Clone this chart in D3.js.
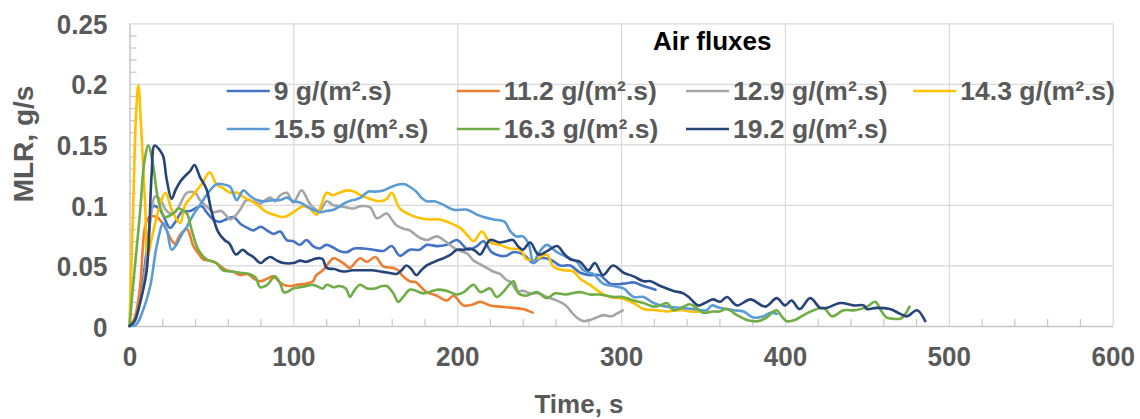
<!DOCTYPE html>
<html>
<head>
<meta charset="utf-8">
<script src="https://cdn.jsdelivr.net/npm/d3@7"></script>
<style>
  html, body { margin: 0; padding: 0; background: #fff; }
  svg { display: block; font-family: "Liberation Sans", Arial, sans-serif; }
</style>
</head>
<body>
<svg id="chart" width="1140" height="419"></svg>
<script>
// Mass loss rate (g/s) against time (s) for seven air fluxes

const xTicks = [0, 100, 200, 300, 400, 500, 600];
const yTicks = [0, 0.05, 0.1, 0.15, 0.2, 0.25];
const yTickLabels = ["0", "0.05", "0.1", "0.15", "0.2", "0.25"];

const seriesNames = ["9 g/(m².s)", "11.2 g/(m².s)", "12.9 g/(m².s)", "14.3 g/(m².s)",
                     "15.5 g/(m².s)", "16.3 g/(m².s)", "19.2 g/(m².s)"];
const seriesColors = ["#4472C4", "#ED7D31", "#A5A5A5", "#FFC000", "#5B9BD5", "#70AD47", "#264478"];

// [time s, MLR g/s]
const flux9 = [[0,0],[3,0.004],[7.4,0.030],[11.5,0.074],[14.5,0.099],[18,0.097],[21,0.090],[24.7,0.081],[28,0.086],[31.9,0.094],[37,0.095],[44,0.099],[47,0.094],[51,0.088],[55,0.086],[58.7,0.088],[63.4,0.090],[68,0.084],[72,0.081],[75.6,0.079],[80,0.082],[83.8,0.079],[88,0.076],[92,0.078],[96,0.071],[100,0.070],[104,0.067],[108,0.071],[112,0.066],[116,0.064],[120,0.067],[124,0.065],[128,0.062],[132.6,0.061],[137,0.064],[142.7,0.064],[148.8,0.063],[155,0.062],[160,0.066],[165,0.058],[171,0.063],[177,0.063],[181.4,0.067],[187.6,0.066],[193.6,0.067],[199.8,0.071],[206.8,0.063],[212,0.066],[216,0.070],[221,0.061],[226,0.058],[230,0.058],[234.3,0.061],[240.4,0.059],[246.5,0.052],[250.5,0.056],[256.7,0.055],[262.8,0.050],[269,0.050],[275,0.044],[281,0.042],[287,0.042],[293.3,0.035],[301.5,0.035],[307.6,0.036],[313.7,0.033],[321,0.030]];

const flux11_2 = [[0,0],[3,0.006],[6.4,0.032],[9.5,0.082],[12,0.090],[16.6,0.090],[19.5,0.086],[22.7,0.079],[25.5,0.071],[27.8,0.068],[30.8,0.075],[35,0.080],[39,0.066],[42,0.060],[45,0.055],[49,0.054],[53,0.052],[56,0.049],[59,0.046],[63,0.045],[67.5,0.042],[72,0.043],[76,0.039],[79.7,0.037],[84,0.039],[87.8,0.041],[91,0.037],[94,0.034],[98,0.033],[102,0.034],[108,0.035],[112,0.037],[114,0.042],[118,0.046],[121,0.051],[124.4,0.056],[128,0.054],[130.5,0.052],[134.6,0.048],[137.5,0.052],[140.7,0.056],[145,0.053],[150,0.057],[155,0.049],[161,0.048],[164,0.046],[167,0.041],[171,0.037],[175,0.036],[178,0.032],[181.4,0.028],[187.6,0.025],[193.6,0.021],[197.7,0.025],[203.8,0.017],[210,0.018],[214,0.020],[220,0.017],[226,0.016],[234,0.015],[240,0.014],[246,0.011]];

const flux12_9 = [[0,0],[3,0.003],[5.4,0.013],[8,0.030],[10.5,0.057],[13,0.090],[15.6,0.107],[19,0.104],[22,0.096],[24.7,0.093],[28,0.094],[31,0.101],[35,0.110],[40,0.110],[43,0.104],[47,0.099],[51,0.094],[56,0.095],[58.5,0.092],[61.4,0.088],[64,0.090],[67.5,0.096],[71.5,0.104],[75,0.103],[79.7,0.101],[83,0.104],[85.8,0.106],[89,0.103],[92,0.108],[96,0.110],[100,0.102],[105,0.112],[110,0.101],[113,0.097],[116,0.095],[120.4,0.103],[124,0.100],[128.5,0.099],[132,0.098],[136.6,0.097],[141,0.099],[146.8,0.098],[151,0.089],[157,0.093],[160,0.088],[163,0.083],[168,0.080],[171,0.079],[177,0.073],[181.4,0.071],[187.6,0.074],[193.6,0.069],[199.8,0.063],[205.9,0.060],[210,0.054],[214,0.051],[218,0.048],[222,0.045],[226,0.043],[230,0.038],[233,0.036],[236.4,0.029],[240.4,0.029],[244.5,0.027],[249.6,0.027],[254.7,0.024],[260.8,0.021],[264,0.019],[267,0.016],[270,0.011],[273,0.007],[277,0.004],[281,0.005],[285,0.007],[289,0.009],[294,0.008],[297,0.010],[301,0.013]];

const flux14_3 = [[0,0],[2.3,0.101],[4,0.175],[5.4,0.199],[7.4,0.156],[9.5,0.101],[11,0.057],[13.5,0.072],[16.6,0.090],[19.5,0.104],[22,0.110],[25.7,0.096],[28.8,0.088],[31,0.085],[34,0.100],[38,0.107],[44,0.117],[49,0.127],[53,0.117],[57,0.114],[61.4,0.110],[66,0.110],[70,0.106],[73.6,0.104],[79,0.099],[83.8,0.094],[88,0.092],[94,0.090],[100,0.094],[106,0.099],[110,0.097],[114.3,0.092],[117,0.100],[120.4,0.110],[124,0.108],[128,0.110],[132.6,0.112],[137,0.111],[141,0.108],[144.8,0.106],[149,0.104],[153,0.103],[157,0.105],[160,0.110],[165,0.097],[171,0.092],[177.5,0.089],[183.5,0.088],[189.6,0.088],[195.7,0.085],[201.8,0.081],[206.8,0.074],[210,0.070],[215,0.078],[220,0.069],[226,0.067],[232,0.064],[238.4,0.063],[242.5,0.055],[248,0.055],[254.7,0.059],[258.7,0.049],[265,0.046],[271,0.045],[275,0.039],[281,0.034],[287,0.028],[293.3,0.024],[300,0.023],[307.6,0.019],[313.7,0.014],[321.8,0.013],[328,0.012],[334,0.013],[338,0.013],[342,0.012],[348,0.012]];

const flux15_5 = [[0,0],[4,0.001],[8,0.012],[12.5,0.032],[16.6,0.066],[20.6,0.085],[23,0.078],[25.7,0.063],[29,0.068],[32,0.076],[35,0.082],[39,0.092],[43,0.100],[48,0.110],[53,0.117],[57,0.117],[61.4,0.115],[65.4,0.104],[69.5,0.112],[73,0.108],[77.6,0.104],[82,0.103],[87.8,0.104],[92,0.104],[96,0.106],[100,0.103],[104,0.102],[108,0.099],[112,0.096],[116.3,0.094],[120,0.095],[124.5,0.096],[128.5,0.099],[132,0.102],[136.6,0.104],[141,0.106],[145.8,0.111],[150,0.111],[155,0.112],[160,0.115],[165,0.117],[168,0.117],[171,0.115],[175,0.111],[178,0.106],[181.4,0.103],[186,0.103],[191.6,0.100],[197.7,0.096],[206,0.096],[212,0.092],[216,0.090],[222,0.088],[229,0.086],[232,0.079],[236,0.074],[240,0.074],[243.5,0.068],[246.5,0.052],[249.6,0.060],[254.7,0.067],[260.8,0.061],[267,0.057],[273,0.053],[277,0.046],[283,0.043],[289,0.035],[295.4,0.033],[301.5,0.031],[307.6,0.024],[313.7,0.024],[319.8,0.019],[328,0.016],[336,0.015],[344,0.014],[352,0.013],[355.4,0.017],[360,0.015],[368.6,0.013],[374.7,0.012],[380.8,0.007],[387,0.008],[391,0.011],[395,0.010]];

const flux16_3 = [[0,0],[2.3,0.035],[6.4,0.093],[9,0.135],[11.5,0.149],[14.5,0.132],[17.6,0.104],[21.7,0.090],[26.7,0.093],[29.8,0.097],[32,0.096],[35,0.093],[38,0.079],[42,0.063],[47,0.055],[53,0.052],[57,0.046],[62,0.045],[67.5,0.044],[73,0.043],[77,0.040],[79.7,0.032],[84,0.034],[88.8,0.041],[92,0.035],[94,0.028],[96,0.028],[100,0.031],[104,0.032],[108,0.033],[112,0.034],[118,0.031],[120.4,0.034],[124.4,0.032],[128,0.033],[132,0.031],[134.6,0.024],[137,0.029],[140.7,0.034],[145,0.031],[150,0.031],[154,0.033],[157,0.033],[161,0.027],[164,0.020],[167,0.024],[171,0.030],[175,0.029],[179,0.027],[183,0.028],[187.6,0.030],[193.6,0.029],[199.8,0.026],[204,0.028],[210,0.034],[214,0.028],[220,0.031],[224,0.024],[228,0.028],[231,0.033],[234.3,0.037],[237.4,0.027],[242,0.025],[248.6,0.028],[254.7,0.023],[259.8,0.027],[266,0.026],[275,0.028],[281,0.026],[287,0.026],[295.4,0.024],[301,0.024],[307.6,0.021],[313.7,0.019],[319.8,0.016],[324,0.017],[328,0.019],[332,0.013],[338,0.016],[342,0.018],[346,0.015],[350,0.011],[356,0.012],[360,0.012],[364.6,0.014],[370.7,0.009],[376.8,0.005],[383.6,0.004],[388.7,0.007],[393,0.012],[395,0.013],[398,0.008],[401,0.004],[406,0.005],[411.4,0.009],[417.5,0.013],[423.6,0.015],[428.7,0.008],[435.8,0.013],[443,0.013],[450,0.016],[455,0.020],[459,0.012],[462,0.007],[466,0.006],[470.4,0.006],[473,0.009],[476,0.016]];

const flux19_2 = [[0,0],[3,0.004],[6.4,0.019],[10.5,0.046],[13.5,0.125],[15.3,0.149],[18.6,0.145],[20.6,0.140],[22.7,0.121],[25.7,0.105],[28,0.112],[30.8,0.119],[34,0.124],[37,0.128],[39.7,0.133],[43,0.123],[47,0.113],[50,0.095],[54,0.078],[58,0.071],[61,0.068],[65,0.059],[69,0.063],[72,0.060],[75.6,0.057],[80,0.052],[83,0.055],[86,0.057],[90,0.054],[94,0.052],[100,0.052],[104,0.054],[108,0.053],[112,0.055],[116.3,0.056],[118,0.055],[120.4,0.048],[125,0.047],[130.5,0.045],[136,0.046],[142.7,0.046],[148,0.046],[153,0.045],[158,0.044],[163,0.043],[166,0.046],[169,0.050],[172,0.047],[175,0.042],[178,0.046],[181.4,0.050],[186,0.053],[191.6,0.056],[196,0.059],[199.8,0.063],[204,0.063],[208,0.064],[211,0.062],[214,0.059],[217,0.065],[220,0.071],[226,0.069],[230,0.070],[234,0.071],[237,0.066],[240,0.063],[244.5,0.069],[249.6,0.059],[255,0.062],[261,0.066],[265,0.060],[269,0.055],[275,0.053],[280,0.046],[284,0.052],[289,0.042],[295,0.050],[301.5,0.044],[307.6,0.041],[313.7,0.037],[318,0.037],[324,0.033],[332,0.029],[338,0.027],[342,0.023],[347,0.017],[351,0.019],[356,0.022],[360.5,0.020],[364.6,0.024],[370.7,0.017],[379,0.022],[388,0.016],[395,0.023],[400,0.017],[404,0.021],[409,0.014],[415.4,0.023],[421.5,0.015],[425.6,0.015],[433.8,0.019],[442,0.017],[448,0.017],[450,0.014],[456,0.015],[464,0.014],[470.4,0.010],[474.5,0.008],[480.6,0.013],[485.6,0.004]];

const seriesData = [flux9, flux11_2, flux12_9, flux14_3, flux15_5, flux16_3, flux19_2];

// ---- layout ----
const svg = d3.select("#chart");
const plot = { left: 129.5, right: 1112.7, top: 23.3, bottom: 326 };
const textGray = "#595959";
const gridGray = "#d9d9d9";
const axisGray = "#c6c6c6";

const x = d3.scaleLinear().domain([0, 600]).range([plot.left, plot.right]);
const y = d3.scaleLinear().domain([0, 0.25]).range([plot.bottom, plot.top]);

// squeeze tick label glyphs slightly, the way the numbers are set
function narrow(sel, k) {
  sel.each(function () {
    const w = this.getComputedTextLength();
    d3.select(this).attr("textLength", w * k).attr("lengthAdjust", "spacingAndGlyphs");
  });
}

// gridlines
svg.append("g")
  .attr("transform", `translate(0,${plot.bottom})`)
  .call(d3.axisBottom(x).tickValues(xTicks.slice(1)).tickSize(-(plot.bottom - plot.top)).tickFormat(""))
  .call(g => g.select(".domain").remove())
  .call(g => g.selectAll("line").attr("stroke", gridGray).attr("stroke-width", 1.2));

svg.append("g")
  .attr("transform", `translate(${plot.left},0)`)
  .call(d3.axisLeft(y).tickValues(yTicks.slice(1)).tickSize(-(plot.right - plot.left)).tickFormat(""))
  .call(g => g.select(".domain").remove())
  .call(g => g.selectAll("line").attr("stroke", gridGray).attr("stroke-width", 1.2));

// minor ticks (inside the plot)
svg.append("g")
  .attr("transform", `translate(0,${plot.bottom})`)
  .call(d3.axisBottom(x).tickValues(d3.range(20, 600, 20).filter(v => v % 100 !== 0)).tickSize(-7).tickFormat(""))
  .call(g => g.select(".domain").remove())
  .call(g => g.selectAll("line").attr("stroke", axisGray).attr("stroke-width", 1.2));

svg.append("g")
  .attr("transform", `translate(${plot.left},0)`)
  .call(d3.axisLeft(y).tickValues(d3.range(1, 25).filter(i => i % 5 !== 0).map(i => i / 100)).tickSize(-7).tickFormat(""))
  .call(g => g.select(".domain").remove())
  .call(g => g.selectAll("line").attr("stroke", axisGray).attr("stroke-width", 1.2));

// main axes with labels
const xAxis = svg.append("g")
  .attr("transform", `translate(0,${plot.bottom})`)
  .call(d3.axisBottom(x).tickValues(xTicks).tickSize(0).tickPadding(0).tickFormat(d3.format("d")));
xAxis.select(".domain").attr("stroke", axisGray).attr("stroke-width", 1.5);
xAxis.selectAll("text")
  .attr("dy", null).attr("y", 40)
  .attr("fill", textGray).attr("font-size", 28).attr("font-weight", "bold")
  .attr("font-family", "'Liberation Sans', Arial, sans-serif")
  .call(narrow, 0.93);

const yAxis = svg.append("g")
  .attr("transform", `translate(${plot.left},0)`)
  .call(d3.axisLeft(y).tickValues(yTicks).tickSize(0).tickPadding(0).tickFormat((d, i) => yTickLabels[i]));
yAxis.select(".domain").attr("stroke", axisGray).attr("stroke-width", 1.5);
yAxis.selectAll("text")
  .attr("x", -22).attr("dy", "0.36em")
  .attr("fill", textGray).attr("font-size", 28).attr("font-weight", "bold")
  .attr("font-family", "'Liberation Sans', Arial, sans-serif")
  .call(narrow, 0.93);

// axis titles
svg.append("text")
  .attr("x", 579).attr("y", 413)
  .attr("text-anchor", "middle")
  .attr("fill", textGray).attr("font-size", 26).attr("font-weight", "bold")
  .text("Time, s");

svg.append("text")
  .attr("transform", "translate(33,144) rotate(-90)")
  .attr("text-anchor", "middle")
  .attr("fill", textGray).attr("font-size", 28).attr("font-weight", "bold")
  .text("MLR, g/s");

// series
const line = d3.line()
  .x(d => x(d[0]))
  .y(d => y(d[1]))
  .curve(d3.curveCatmullRom.alpha(0.5));

svg.append("g")
  .selectAll("path")
  .data(seriesData)
  .join("path")
  .attr("d", line)
  .attr("fill", "none")
  .attr("stroke", (d, i) => seriesColors[i])
  .attr("stroke-width", 2.6)
  .attr("stroke-linejoin", "round")
  .attr("stroke-linecap", "round");

// legend
const legendTitle = svg.append("text")
  .attr("x", 653).attr("y", 50)
  .attr("fill", "#000").attr("font-size", 26).attr("font-weight", "bold")
  .text("Air fluxes");

const legendCols = [226.7, 456.7, 686, 913.3];
const legendRows = [100, 138];
const legend = svg.append("g");
seriesNames.forEach((name, i) => {
  const col = i < 4 ? i : i - 4;
  const row = i < 4 ? 0 : 1;
  const lx = legendCols[col];
  const ly = legendRows[row];
  legend.append("line")
    .attr("x1", lx).attr("x2", lx + 43)
    .attr("y1", ly - 9).attr("y2", ly - 9)
    .attr("stroke", seriesColors[i]).attr("stroke-width", 2.6);
  legend.append("text")
    .attr("x", lx + 47).attr("y", ly)
    .attr("fill", textGray).attr("font-size", 26.5).attr("font-weight", "bold")
    .text(name);
});
</script>
</body>
</html>
